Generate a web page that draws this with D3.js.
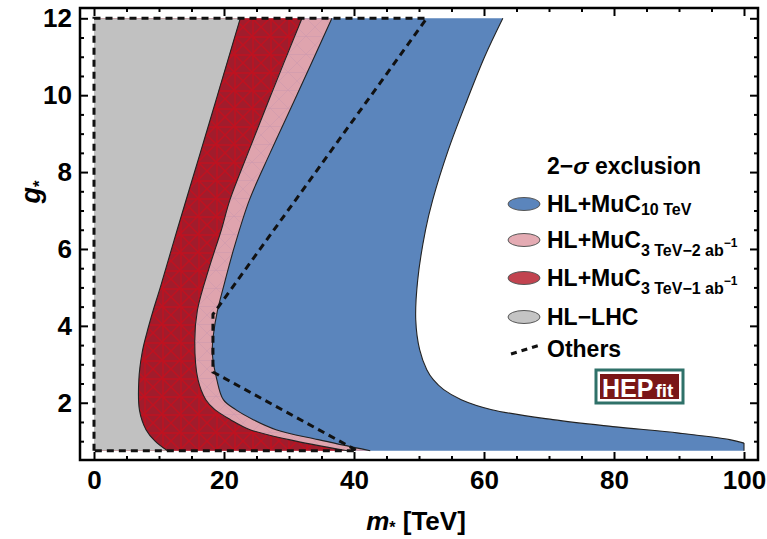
<!DOCTYPE html>
<html>
<head>
<meta charset="utf-8">
<script src="https://cdn.jsdelivr.net/npm/d3@7"></script>
<style>
  body { margin: 0; background: #fff; }
  svg { display: block; }
  text { font-family: "Liberation Sans", Arial, sans-serif; font-weight: bold; fill: #000; }
</style>
</head>
<body>
<svg id="chart" width="767" height="539"></svg>
<script>
// ---- data: exclusion boundaries m*(g*) in TeV ----
const xTicks = [0, 20, 40, 60, 80, 100];
const yTicks = [2, 4, 6, 8, 10, 12];

// HL-LHC
const grayG = [12, 10, 8.5, 6.5, 5.0, 4.4, 3.8, 3.3, 2.6, 1.8, 1.3, 1.0, 0.75];
const grayM = [22.5, 19.0, 16.35, 12.8, 10.2, 9.1, 8.1, 7.4, 6.9, 7.0, 8.0, 9.4, 11.3];

// HL+MuC 3 TeV, 1 ab^-1
const redG = [12, 10, 8.5, 7.27, 6.5, 5.5, 4.4, 3.6, 2.6, 2.08, 1.82, 1.56, 1.3, 1.04, 0.75];
const redM = [32.0, 27.2, 23.7, 20.9, 19.6, 17.7, 15.9, 15.5, 16.0, 17.2, 18.6, 21.0, 24.0, 30.0, 39.0];

// HL+MuC 3 TeV, 2 ab^-1
const pinkG = [12, 10, 8.5, 7.27, 6.0, 5.0, 4.4, 3.8, 3.3, 2.6, 2.08, 1.82, 1.56, 1.3, 1.04, 0.75];
const pinkM = [36.6, 31.2, 27.1, 23.9, 21.5, 19.9, 19.0, 18.4, 18.2, 18.9, 19.9, 21.8, 24.5, 28.0, 34.5, 42.5];

// HL+MuC 10 TeV
const blueG = [12, 11, 9.87, 8.57, 7.27, 6.49, 5.19, 4.16, 3.38, 2.86, 2.6, 2.34, 2.08, 1.82, 1.56, 1.38, 1.21, 1.04, 0.95];
const blueM = [62.9, 60.1, 57.4, 54.5, 52.1, 51.0, 49.8, 49.5, 50.1, 51.2, 52.2, 53.8, 56.5, 61.2, 70.6, 79.8, 90.0, 97.8, 100];

// Others (dashed outline)
const othersM = [0, 0, 51.2, 18.3, 18.3, 40.5];
const othersG = [0.75, 12, 12, 4.3, 2.8, 0.75];

// legend labels
const legendMain = ["HL+MuC", "HL+MuC", "HL+MuC", "HL\u2212LHC", "Others"];
const legendSub = ["10 TeV", "3 TeV\u22122 ab", "3 TeV\u22121 ab", "", ""];
const legendSup = ["", "\u22121", "\u22121", "", ""];

// ---- styles ----
const col = {
  blue: "#5b85bc",
  pink: "#dfa4ae",
  red: "#a11c2c",
  gray: "#c1c1c1",
  legBlue: "#5b85bc",
  legPink: "#e4abb3",
  legRed: "#c2434f",
  legGray: "#c4c4c4"
};

const svg = d3.select("#chart");
const x = d3.scaleLinear().domain([0, 100]).range([94, 744]);
const y = d3.scaleLinear().domain([0.75, 12]).range([450.8, 18.3]);
const frame = { l: 80, r: 758, t: 8, b: 460 };

// mesh patterns for the 3 TeV regions
const defs = svg.append("defs");
const redPat = defs.append("pattern").attr("id", "redMesh")
  .attr("patternUnits", "userSpaceOnUse").attr("width", 36).attr("height", 36);
redPat.append("rect").attr("width", 36).attr("height", 36).attr("fill", col.red);
redPat.append("path")
  .attr("d", "M0,1H36M0,19H36M1,0V36M19,0V36M0,0L18,18L36,0M0,36L18,18L36,36M18,0L36,18L18,36L0,18Z")
  .attr("stroke", "#c30f1e").attr("stroke-width", 1.4).attr("opacity", 0.9).attr("fill", "none");

const pinkPat = defs.append("pattern").attr("id", "pinkMesh")
  .attr("patternUnits", "userSpaceOnUse").attr("width", 18).attr("height", 18);
pinkPat.append("rect").attr("width", 18).attr("height", 18).attr("fill", col.pink);
pinkPat.append("path")
  .attr("d", "M0,0L18,18M18,0L0,18M0,0.5H18")
  .attr("stroke", "#cc98ae").attr("stroke-width", 0.9).attr("opacity", 0.6).attr("fill", "none");

const curve = d3.line().x(d => x(d[0])).y(d => y(d[1])).curve(d3.curveCatmullRom.alpha(0.5));
const zipPts = (ms, gs) => ms.map((m, i) => [m, gs[i]]);

function regionPath(ms, gs, tail) {
  const pts = zipPts(ms, gs);
  let d = `M${x(0)},${y(12)}` + curve(pts).replace(/^M/, "L");
  tail.forEach(p => { d += `L${x(p[0])},${y(p[1])}`; });
  return d + "Z";
}

const regions = [
  { ms: blueM, gs: blueG, fill: col.blue, tail: [[100, 0.75], [0, 0.75]] },
  { ms: pinkM, gs: pinkG, fill: "url(#pinkMesh)", tail: [[0, 0.75]] },
  { ms: redM, gs: redG, fill: "url(#redMesh)", tail: [[0, 0.75]] },
  { ms: grayM, gs: grayG, fill: col.gray, tail: [[0, 0.75]] }
];

const plot = svg.append("g");
regions.forEach(r => {
  plot.append("path").attr("d", regionPath(r.ms, r.gs, r.tail)).attr("fill", r.fill);
  plot.append("path").attr("d", curve(zipPts(r.ms, r.gs)))
    .attr("fill", "none").attr("stroke", "#222").attr("stroke-width", 1.1);
});
// right cut of the 10 TeV region at the edge of the range
plot.append("line")
  .attr("x1", x(100)).attr("x2", x(100))
  .attr("y1", y(blueG[blueG.length - 1])).attr("y2", y(0.75))
  .attr("stroke", "#222").attr("stroke-width", 1.1);

// Others: dashed outline
plot.append("path")
  .attr("d", d3.line().x(d => x(d[0])).y(d => y(d[1])).curve(d3.curveLinearClosed)(zipPts(othersM, othersG)))
  .attr("fill", "none").attr("stroke", "#111").attr("stroke-width", 3).attr("stroke-dasharray", "7,5");

// ---- frame and ticks ----
const minorX = d3.range(5, 100, 5).filter(v => v % 20 !== 0);
const minorY = d3.range(1, 12, 0.5).filter(v => v % 2 !== 0);

function styleAxis(g) {
  g.select(".domain").remove();
  g.selectAll(".tick line").attr("stroke", "#000").attr("stroke-width", 2);
  g.selectAll(".tick text").style("font-size", "26px");
}

svg.append("g").attr("transform", `translate(0,${frame.b})`)
  .call(d3.axisBottom(x).tickValues(xTicks).tickSize(-8).tickPadding(11).tickFormat(d3.format("d"))).call(styleAxis);
svg.append("g").attr("transform", `translate(0,${frame.b})`)
  .call(d3.axisBottom(x).tickValues(minorX).tickSize(-4).tickFormat("")).call(styleAxis);
svg.append("g").attr("transform", `translate(0,${frame.t})`)
  .call(d3.axisTop(x).tickValues(xTicks).tickSize(-8).tickFormat("")).call(styleAxis);
svg.append("g").attr("transform", `translate(0,${frame.t})`)
  .call(d3.axisTop(x).tickValues(minorX).tickSize(-4).tickFormat("")).call(styleAxis);

svg.append("g").attr("transform", `translate(${frame.l},0)`)
  .call(d3.axisLeft(y).tickValues(yTicks).tickSize(-8).tickPadding(8).tickFormat(d3.format("d"))).call(styleAxis);
svg.append("g").attr("transform", `translate(${frame.l},0)`)
  .call(d3.axisLeft(y).tickValues(minorY).tickSize(-4).tickFormat("")).call(styleAxis);
svg.append("g").attr("transform", `translate(${frame.r},0)`)
  .call(d3.axisRight(y).tickValues(yTicks).tickSize(-8).tickFormat("")).call(styleAxis);
svg.append("g").attr("transform", `translate(${frame.r},0)`)
  .call(d3.axisRight(y).tickValues(minorY).tickSize(-4).tickFormat("")).call(styleAxis);

svg.append("rect")
  .attr("x", frame.l).attr("y", frame.t)
  .attr("width", frame.r - frame.l).attr("height", frame.b - frame.t)
  .attr("fill", "none").attr("stroke", "#000").attr("stroke-width", 2.5);

// ---- axis titles ----
const xt = svg.append("text").attr("x", 416).attr("y", 530).attr("text-anchor", "middle").style("font-size", "26px");
xt.append("tspan").text("m").style("font-style", "italic");
xt.append("tspan").text("*").style("font-size", "16px").attr("dy", 3);
xt.append("tspan").text(" [TeV]").attr("dy", -3);

const yt = svg.append("text").attr("transform", "translate(40,192) rotate(-90)")
  .attr("text-anchor", "middle").style("font-size", "27px");
yt.append("tspan").text("g").style("font-style", "italic");
yt.append("tspan").text("*").style("font-size", "17px").attr("dy", 5);

// ---- legend ----
const leg = svg.append("g");
const title = leg.append("text").attr("x", 547).attr("y", 174).style("font-size", "23px");
title.append("tspan").text("2\u2212");
title.append("tspan").text("\u03c3").style("font-style", "italic");
title.append("tspan").text(" exclusion");

const legY = [204, 240, 278, 317, 349];
const legFill = [col.legBlue, col.legPink, col.legRed, col.legGray, null];
const subDrop = [3, 8, 8, 0, 0];

legendMain.forEach((name, i) => {
  const cy = legY[i];
  if (legFill[i]) {
    leg.append("ellipse").attr("cx", 524).attr("cy", cy).attr("rx", 16).attr("ry", 6.5)
      .attr("fill", legFill[i]).attr("stroke", "#555").attr("stroke-width", 1);
  } else {
    leg.append("line").attr("x1", 511).attr("y1", cy + 5).attr("x2", 540).attr("y2", cy - 4)
      .attr("stroke", "#111").attr("stroke-width", 3).attr("stroke-dasharray", "6,5");
  }
  const t = leg.append("text").attr("x", 547).attr("y", cy + 8).style("font-size", "23px");
  t.append("tspan").text(name);
  if (legendSub[i]) {
    t.append("tspan").text(legendSub[i]).style("font-size", "16px").attr("dy", subDrop[i]);
    if (legendSup[i]) {
      t.append("tspan").text(legendSup[i]).style("font-size", "12px").attr("dy", -9);
    }
  }
});

// ---- HEPfit logo ----
const logo = svg.append("g");
logo.append("rect").attr("x", 596).attr("y", 370).attr("width", 87).attr("height", 33)
  .attr("fill", "#fff").attr("stroke", "#2f7169").attr("stroke-width", 3);
logo.append("rect").attr("x", 600).attr("y", 374).attr("width", 79).attr("height", 25).attr("fill", "#7a1616");
const lt = logo.append("text").attr("x", 602).attr("y", 397).style("fill", "#fff");
lt.append("tspan").text("HEP").style("font-size", "25px").style("fill", "#fff");
lt.append("tspan").text("fit").style("font-size", "19px").style("fill", "#fff").attr("dx", 2);
</script>
</body>
</html>
